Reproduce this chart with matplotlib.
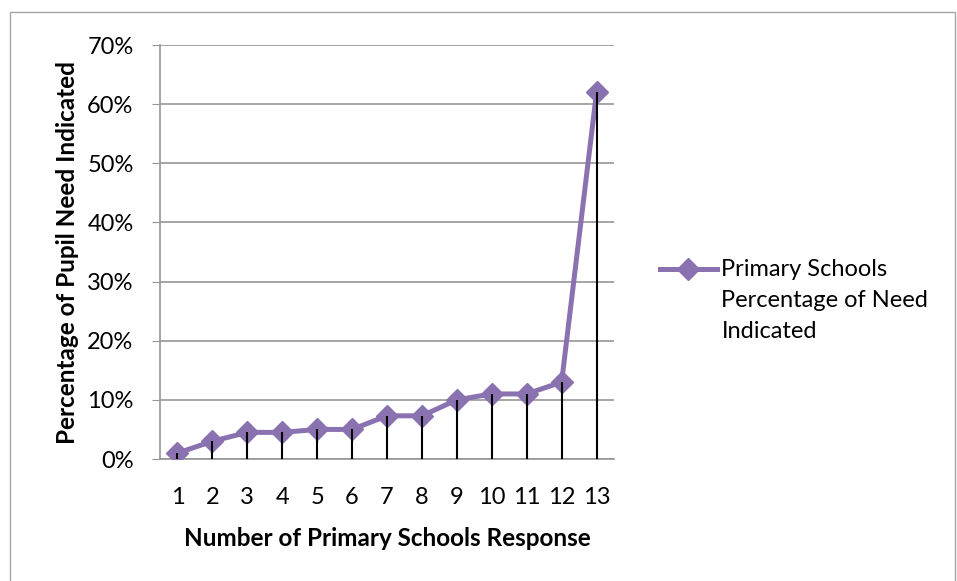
import numpy as np
import matplotlib.pyplot as plt
from matplotlib.patches import Rectangle
from matplotlib.legend_handler import HandlerLine2D

# responses per school, percentage of pupil need
schools = list(range(1, 14))
need_pct = [1, 3, 4.5, 4.5, 5, 5, 7.3, 7.3, 10, 11, 11, 13, 62]
y_ticks = [0, 10, 20, 30, 40, 50, 60, 70]

plt.rcParams['font.family'] = ['Lato', 'DejaVu Sans']


class FirstLineHandler(HandlerLine2D):
    # put the legend key beside the first line of a wrapped label
    def create_artists(self, legend, orig_handle, xdescent, ydescent,
                       width, height, fontsize, trans):
        arts = super().create_artists(legend, orig_handle, xdescent, ydescent,
                                      width, height, fontsize, trans)
        for a in arts:
            a.set_ydata(np.asarray(a.get_ydata()) + 1.37 * fontsize)
        return arts


fig = plt.figure(figsize=(9.57, 5.81), dpi=100)
fig.patches.append(Rectangle((10 / 957, -0.1), 945 / 957, 1.1 - 12 / 581,
                             transform=fig.transFigure, fill=False,
                             edgecolor='#a6a6a6', linewidth=1))
ax = fig.add_axes([160 / 957, 1 - 459 / 581, 454 / 957, 414 / 581])

purple = '#8a72b0'
line, = ax.plot(schools, need_pct, color=purple, lw=3.6, marker='D', ms=11.5,
                markerfacecolor=purple, markeredgecolor=purple,
                label='Primary Schools\nPercentage of Need\nIndicated', zorder=3)
# drop lines from each point down to the axis
ax.vlines(schools, 0, need_pct, colors='black', lw=1.5, zorder=4)

ax.set_xlim(0.5, 13.5)
ax.set_ylim(0, 70)
ax.set_xticks(schools)
ax.set_yticks(y_ticks)
ax.set_yticklabels([f'{v}%' for v in y_ticks])
ax.grid(axis='y', color='#969696', lw=1.2)
ax.set_axisbelow(True)
for s in ['top', 'right']:
    ax.spines[s].set_visible(False)
for s in ['left', 'bottom']:
    ax.spines[s].set_color('#969696')
    ax.spines[s].set_linewidth(1.2)
ax.tick_params(axis='y', length=6, color='#969696', labelsize=17, pad=13)
ax.tick_params(axis='x', length=0, labelsize=17, pad=20)

ax.set_xlabel('Number of Primary Schools Response', fontsize=17.5,
              fontweight='bold', labelpad=14)
ax.set_ylabel('Percentage of Pupil Need Indicated', fontsize=17.5,
              fontweight='bold', labelpad=6)

leg = ax.legend(loc='upper left', bbox_to_anchor=(660 / 957, 1 - 259 / 581),
                bbox_transform=fig.transFigure, frameon=False, fontsize=17,
                handlelength=2.4, handletextpad=0.2, borderpad=0,
                borderaxespad=0, handler_map={line: FirstLineHandler()})
leg.get_texts()[0].set_linespacing(1.6)

plt.savefig('out.png', dpi=100)
